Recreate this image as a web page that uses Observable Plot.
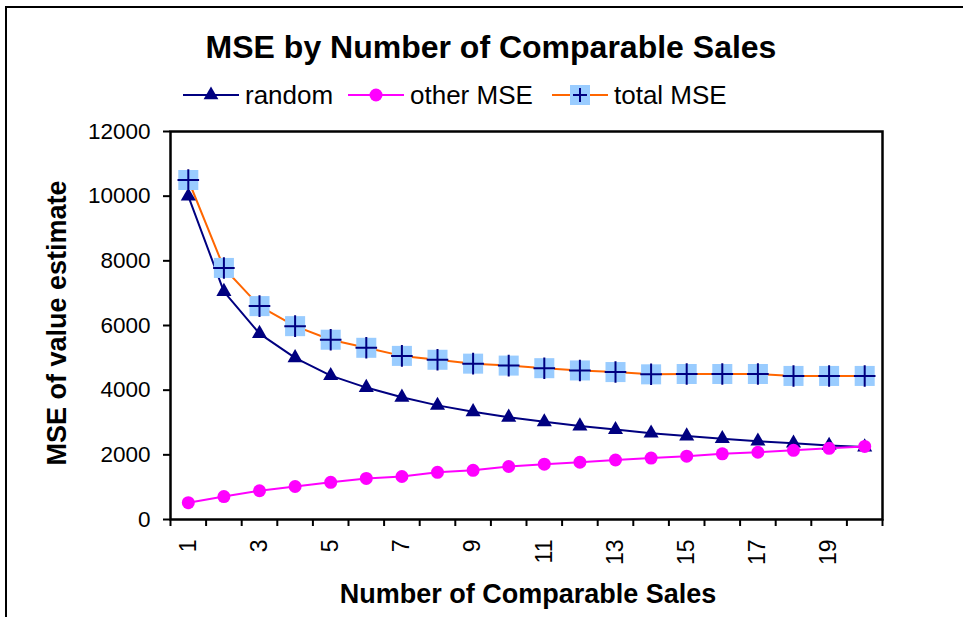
<!DOCTYPE html>
<html>
<head>
<meta charset="utf-8">
<script src="https://cdn.jsdelivr.net/npm/d3@7"></script>
<script src="https://cdn.jsdelivr.net/npm/@observablehq/plot@0.6"></script>
<style>
  html, body { margin: 0; padding: 0; background: #fff; }
  #wrap { position: relative; width: 963px; height: 617px; overflow: hidden; font-family: "Liberation Sans", Arial, sans-serif; }
  #outer { position: absolute; left: 5px; top: 6px; width: 1000px; height: 700px; border-left: 2px solid #000; border-top: 2px solid #000; }
  #title { position: absolute; left: 0; width: 982px; top: 29px; text-align: center; font-weight: bold; font-size: 32px; }
  #legend { position: absolute; left: 0; top: 80px; height: 30px; width: 963px; font-size: 26px; white-space: nowrap; }
  #legend .item { position: absolute; top: 0; height: 30px; display: flex; align-items: center; }
  #legend svg { margin-right: 6px; }
  #ytitle { position: absolute; left: 57px; top: 323px; transform: translate(-50%, -50%) rotate(-90deg); font-weight: bold; font-size: 27px; white-space: nowrap; }
  #xtitle { position: absolute; left: 528px; top: 594px; transform: translate(-50%, -50%); font-weight: bold; font-size: 27px; white-space: nowrap; }
  #chart { position: absolute; left: 0; top: 0; }
</style>
</head>
<body>
<div id="wrap">
  <div id="outer"></div>
  <div id="chart"></div>
  <div id="title"></div>
  <div id="legend"></div>
  <div id="ytitle"></div>
  <div id="xtitle"></div>
</div>
<script>
// ---- data ----
const titleText = "MSE by Number of Comparable Sales";
const xTitle = "Number of Comparable Sales";
const yTitle = "MSE of value estimate";
const categories = [1,2,3,4,5,6,7,8,9,10,11,12,13,14,15,16,17,18,19,20];
const randomMSE = [10000,7050,5750,5000,4450,4080,3780,3530,3330,3160,3020,2890,2780,2670,2580,2500,2420,2360,2290,2240];
const otherMSE  = [520,710,890,1020,1150,1270,1330,1460,1520,1640,1710,1770,1840,1900,1960,2030,2080,2140,2200,2260];
const totalMSE  = [10500,7780,6600,5980,5560,5310,5060,4940,4820,4760,4680,4610,4560,4490,4500,4500,4500,4440,4440,4440];
const xTickLabels = [1,3,5,7,9,11,13,15,17,19];
const yTicks = [0,2000,4000,6000,8000,10000,12000];
const seriesNames = ["random", "other MSE", "total MSE"];

const navy = "#000080", magenta = "#FF00FF", orange = "#FF6600", lightBlue = "#99CCFF";

const rows = (vals) => categories.map((c, i) => ({n: c, v: vals[i]}));
const dRandom = rows(randomMSE), dOther = rows(otherMSE), dTotal = rows(totalMSE);
const boundaries = [categories[0] - 0.5, ...categories.map(c => c + 0.5)];

const chart = Plot.plot({
  width: 963,
  height: 617,
  marginLeft: 170, marginRight: 81, marginTop: 131, marginBottom: 98,
  style: { fontFamily: "'Liberation Sans', Arial, sans-serif", fontSize: "22px", color: "#000", background: "transparent", overflow: "visible" },
  x: { type: "linear", domain: [categories[0] - 0.5, categories[categories.length - 1] + 0.5] },
  y: { domain: [0, 12000] },
  marks: [
    Plot.axisY({ ticks: yTicks, tickSize: 7, tickPadding: 13, tickFormat: d3.format("d"), label: null, strokeWidth: 2, fontSize: 22.5 }),
    Plot.axisX({ ticks: boundaries, tickSize: 7, tickFormat: () => "", label: null, strokeWidth: 2 }),
    Plot.axisX({ ticks: xTickLabels, tickSize: 0, tickPadding: 20, tickRotate: -90, tickFormat: d3.format("d"), label: null, fontSize: 23 }),
    Plot.frame({ stroke: "#000", strokeWidth: 2.5 }),
    Plot.line(dTotal, { x: "n", y: "v", stroke: orange, strokeWidth: 2 }),
    Plot.line(dRandom, { x: "n", y: "v", stroke: navy, strokeWidth: 2 }),
    Plot.line(dOther, { x: "n", y: "v", stroke: magenta, strokeWidth: 2 }),
    Plot.dot(dRandom, { x: "n", y: "v", symbol: "triangle", r: 5.6, fill: navy, stroke: "none" }),
    Plot.dot(dOther, { x: "n", y: "v", symbol: "circle", r: 6.5, fill: magenta, stroke: "none" }),
    Plot.dot(dTotal, { x: "n", y: "v", symbol: "square", r: 11.3, fill: lightBlue, stroke: "none" }),
    Plot.dot(dTotal, { x: "n", y: "v", symbol: "plus", r: 7, stroke: navy, strokeWidth: 2, fill: "none" })
  ]
});
document.getElementById("chart").appendChild(chart);

document.getElementById("title").textContent = titleText;
document.getElementById("ytitle").textContent = yTitle;
document.getElementById("xtitle").textContent = xTitle;

// legend
const legendLeft = [183, 348, 552];
const legendSpecs = [
  { name: seriesNames[0], line: navy, marker: `<path d="${d3.symbol(d3.symbolTriangle, 95)()}" transform="translate(28,15)" fill="${navy}"/>` },
  { name: seriesNames[1], line: magenta, marker: `<circle cx="28" cy="15" r="6.5" fill="${magenta}"/>` },
  { name: seriesNames[2], line: orange, marker: `<rect x="18" y="5" width="20" height="20" fill="${lightBlue}"/><path d="M21,15H35M28,8V22" stroke="${navy}" stroke-width="2"/>` }
];
const legend = document.getElementById("legend");
legendSpecs.forEach((s, i) => {
  const item = document.createElement("div");
  item.className = "item";
  item.style.left = legendLeft[i] + "px";
  item.innerHTML = `<svg width="56" height="30"><line x1="0" x2="56" y1="15" y2="15" stroke="${s.line}" stroke-width="2"/>${s.marker}</svg><span>${s.name}</span>`;
  legend.appendChild(item);
});
</script>
</body>
</html>
